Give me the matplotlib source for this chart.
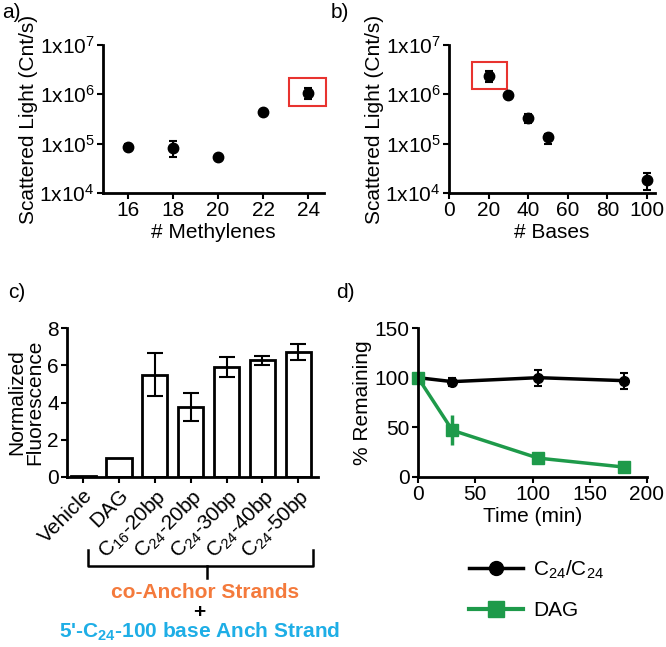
import numpy as np
import matplotlib
matplotlib.use("Agg")
import matplotlib.pyplot as plt
from matplotlib.patches import Rectangle
from matplotlib.lines import Line2D
from matplotlib.ticker import LogLocator, FixedLocator, NullFormatter

plt.rcParams['font.family'] = ['Liberation Sans', 'DejaVu Sans']
plt.rcParams['mathtext.default'] = 'regular'
plt.rcParams['font.size'] = 14

# -------------------------------
# DATA
# -------------------------------

# a) scattered light vs chain length
methylenes = [16, 18, 20, 22, 24]
light_a = [8.7e4, 8.3e4, 5.4e4, 4.3e5, 1.07e6]
light_a_lo = [7.5e4, 5.4e4, 5.4e4, 4.3e5, 8.0e5]
light_a_hi = [1.0e5, 1.15e5, 5.4e4, 4.3e5, 1.34e6]

# b) scattered light vs strand length
bases = [20, 30, 40, 50, 100]
light_b = [2.3e6, 9.7e5, 3.3e5, 1.35e5, 1.8e4]
light_b_lo = [1.8e6, 9.7e5, 2.6e5, 9.8e4, 1.15e4]
light_b_hi = [3.0e6, 9.7e5, 4.0e5, 1.6e5, 2.5e4]

# c) normalized fluorescence
c_labels = ['Vehicle', 'DAG', 'C$_{16}$-20bp', 'C$_{24}$-20bp',
            'C$_{24}$-30bp', 'C$_{24}$-40bp', 'C$_{24}$-50bp']
c_values = [0.05, 1.0, 5.5, 3.75, 5.9, 6.27, 6.72]
c_err = [0, 0, 1.15, 0.75, 0.55, 0.25, 0.42]

# d) % remaining over time
time_c24 = [0, 30, 105, 180]
remain_c24 = [100, 96, 100, 97]
err_c24 = [2, 4, 8, 8]
time_dag = [0, 30, 105, 180]
remain_dag = [100, 47, 19, 10]
err_dag = [2, 15, 3, 3]

GREEN = '#1e9a4a'
ORANGE = '#f47a3c'
CYAN = '#1eaee6'

W, H = 666, 647
fig = plt.figure(figsize=(W / 100, H / 100), dpi=100)


def px_axes(left, top, right, bottom):
    return fig.add_axes([left / W, 1 - bottom / H, (right - left) / W, (bottom - top) / H])


def style(ax):
    ax.spines['top'].set_visible(False)
    ax.spines['right'].set_visible(False)
    ax.spines['left'].set_linewidth(2)
    ax.spines['bottom'].set_linewidth(2)
    ax.tick_params(direction='out', width=1.5, length=4, labelsize=15, pad=2)


def log_axis(ax):
    ax.set_yscale('log')
    ax.set_ylim(1e4, 1e7)
    ax.yaxis.set_major_locator(FixedLocator([1e4, 1e5, 1e6, 1e7]))
    ax.set_yticklabels(['1x10$^{4}$', '1x10$^{5}$', '1x10$^{6}$', '1x10$^{7}$'])
    ax.yaxis.set_minor_locator(LogLocator(base=10, subs=np.arange(2, 10)))
    ax.yaxis.set_minor_formatter(NullFormatter())
    ax.tick_params(axis='y', which='minor', length=2, width=1)
    ax.set_ylabel('Scattered Light (Cnt/s)', fontsize=15, labelpad=1)


# -------------------------------
# PANEL a
# -------------------------------
ax_a = px_axes(103, 45, 324, 193)
style(ax_a)
log_axis(ax_a)
ya = np.array(light_a)
ax_a.errorbar(methylenes, ya, yerr=[ya - np.array(light_a_lo), np.array(light_a_hi) - ya],
              fmt='o', color='black', ms=7.5, capsize=3, elinewidth=1.5, capthick=1.5)
ax_a.set_xlim(14.9, 24.7)
ax_a.set_xticks(methylenes)
ax_a.set_xlabel('# Methylenes', fontsize=15, labelpad=2)
ax_a.add_patch(Rectangle((23.17, 10 ** 5.76), 1.6, 10 ** 6.33 - 10 ** 5.76,
                         fill=False, edgecolor='#e8332f', lw=1.5, clip_on=False))

# -------------------------------
# PANEL b
# -------------------------------
ax_b = px_axes(449, 45, 655, 193)
style(ax_b)
log_axis(ax_b)
yb = np.array(light_b)
ax_b.errorbar(bases, yb, yerr=[yb - np.array(light_b_lo), np.array(light_b_hi) - yb],
              fmt='o', color='black', ms=7.5, capsize=3, elinewidth=1.5, capthick=1.5, clip_on=False)
ax_b.set_xlim(0, 104)
ax_b.set_xticks([0, 20, 40, 60, 80, 100])
ax_b.set_xlabel('# Bases', fontsize=15, labelpad=2)
ax_b.add_patch(Rectangle((11.8, 10 ** 6.108), 17.6, 10 ** 6.655 - 10 ** 6.108,
                         fill=False, edgecolor='#e8332f', lw=1.5, clip_on=False))

# -------------------------------
# PANEL c
# -------------------------------
ax_c = px_axes(67, 328, 318, 477)
style(ax_c)
xc = np.arange(len(c_labels))
ax_c.bar(xc, c_values, width=0.7, color='white', edgecolor='black', linewidth=2)
ax_c.errorbar(xc[2:], c_values[2:], yerr=c_err[2:], fmt='none', ecolor='black',
              capsize=6, elinewidth=1.5, capthick=1.5)
ax_c.set_xlim(-0.45, 6.55)
ax_c.set_ylim(0, 8)
ax_c.set_yticks([0, 2, 4, 6, 8])
ax_c.set_xticks(xc)
ax_c.set_xticklabels(c_labels, rotation=45, ha='right', rotation_mode='anchor', fontsize=15)
ax_c.set_ylabel('Normalized\nFluorescence', fontsize=15, labelpad=2, linespacing=0.9)

# bracket under the co-anchor labels
fx = lambda v: v / W
fy = lambda v: 1 - v / H
for xs, ys in [([88, 88, 313, 313], [550, 566, 566, 550]), ([207, 207], [566, 578])]:
    fig.add_artist(Line2D([fx(v) for v in xs], [fy(v) for v in ys], color='black', lw=1.8))
fig.text(fx(205), fy(592), 'co-Anchor Strands', color=ORANGE, fontsize=15,
         fontweight='bold', ha='center', va='center')
fig.text(fx(199), fy(612), '+', color='black', fontsize=15, fontweight='bold',
         ha='center', va='center')
fig.text(fx(200), fy(632), "5'-C$_{24}$-100 base Anch Strand", color=CYAN, fontsize=15,
         fontweight='bold', ha='center', va='center')

# -------------------------------
# PANEL d
# -------------------------------
ax_d = px_axes(418, 328, 647, 477)
style(ax_d)
ax_d.errorbar(time_c24, remain_c24, yerr=err_c24, fmt='-o', color='black', lw=2.5,
              ms=7, capsize=3, elinewidth=1.5, capthick=1.5, clip_on=False)
ax_d.errorbar(time_dag, remain_dag, yerr=err_dag, fmt='-s', color=GREEN, lw=2.5,
              ms=8, capsize=0, elinewidth=2.5, clip_on=False)
ax_d.set_xlim(0, 200)
ax_d.set_ylim(0, 150)
ax_d.set_xticks([0, 50, 100, 150, 200])
ax_d.set_yticks([0, 50, 100, 150])
ax_d.set_xlabel('Time (min)', fontsize=15, labelpad=2)
ax_d.set_ylabel('% Remaining', fontsize=15, labelpad=2)
handles = [Line2D([], [], color='black', lw=2.5, marker='o', ms=10),
           Line2D([], [], color=GREEN, lw=3, marker='s', ms=12)]
ax_d.legend(handles, ['C$_{24}$/C$_{24}$', 'DAG'], loc='upper left',
            bbox_to_anchor=(fx(450), fy(540)), bbox_transform=fig.transFigure,
            frameon=False, fontsize=15, handlelength=2.6, labelspacing=0.95,
            handletextpad=0.5)

# panel labels
for lab, x, y in [('a)', 2, 12), ('b)', 331, 12), ('c)', 8, 292), ('d)', 336, 292)]:
    fig.text(fx(x), fy(y), lab, fontsize=15, ha='left', va='center')

fig.savefig('out.png', dpi=100)
